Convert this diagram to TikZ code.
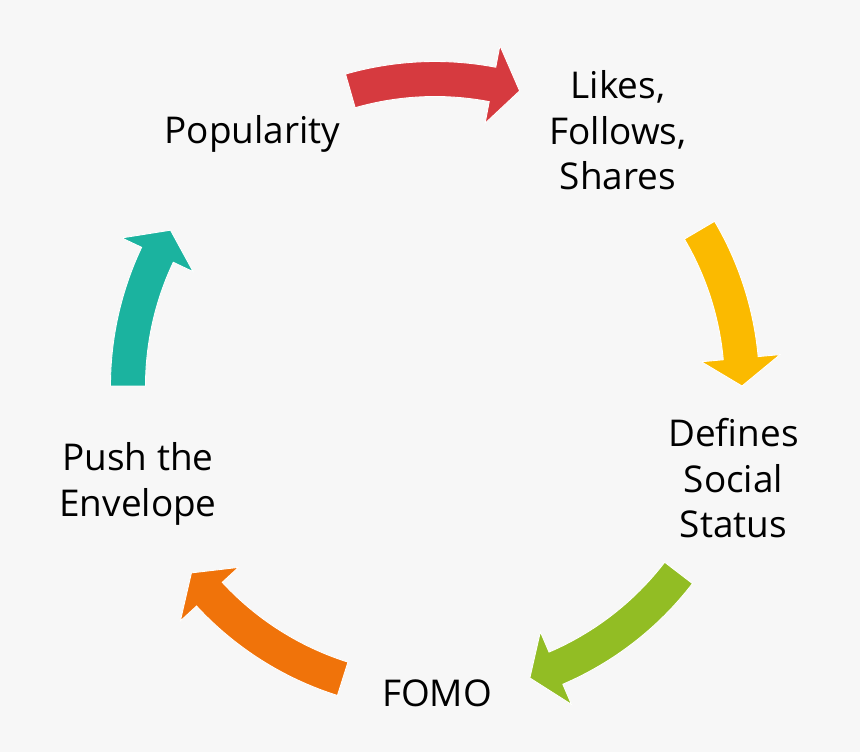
\documentclass[tikz,border=0pt]{standalone}
\usepackage{fontspec}
\setmainfont{Open Sans}
\usetikzlibrary{positioning}
\definecolor{bggrey}{HTML}{F7F7F7}
\definecolor{cred}{HTML}{D63A3F}
\definecolor{cyellow}{HTML}{FBBA00}
\definecolor{cgreen}{HTML}{92BD24}
\definecolor{corange}{HTML}{F0730A}
\definecolor{cteal}{HTML}{1BB39F}
% curved block arrow on the ring: colour, tail angle, tip angle
\newcommand{\cyclearrow}[3]{%
  \fill[#1,draw=white,line width=0.5pt]
    (#2:6.49) arc[start angle=#2,end angle=#3+5.2,radius=6.49]
    -- (#3+5.2:6.93) -- (#3:6.14) -- (#3+5.2:5.35)
    -- (#3+5.2:5.79) arc[start angle=#3+5.2,end angle=#2,radius=5.79] -- cycle;}

\begin{document}
\begin{tikzpicture}[
  txt/.style={font=\fontsize{21}{25.9}\selectfont,align=center,anchor=base,inner sep=0pt,text=black}]
  \fill[bggrey] (-8.7,-7.32) rectangle (8.5,7.72);
  \useasboundingbox (-8.7,-7.32) rectangle (8.5,7.72);
  % base anchor sits on the last line
  \node[txt] (pop)    at (-3.65,4.84) {Popularity};
  \node[txt] (likes)  at (3.66,3.92)  {Likes,\\Follows,\\Shares};
  \node[txt] (status) at (5.97,-3.04) {Defines\\Social\\Status};
  \node[txt] (fomo)   at (0.04,-6.41) {FOMO};
  \node[txt] (push)   at (-5.94,-2.6) {Push the\\Envelope};
  \cyclearrow{cred}{106}{74}
  \cyclearrow{cyellow}{30.5}{0}
  \cyclearrow{cgreen}{-37.5}{-72}
  \cyclearrow{corange}{-107.5}{-142.5}
  \cyclearrow{cteal}{180}{149.5}
\end{tikzpicture}
\end{document}
